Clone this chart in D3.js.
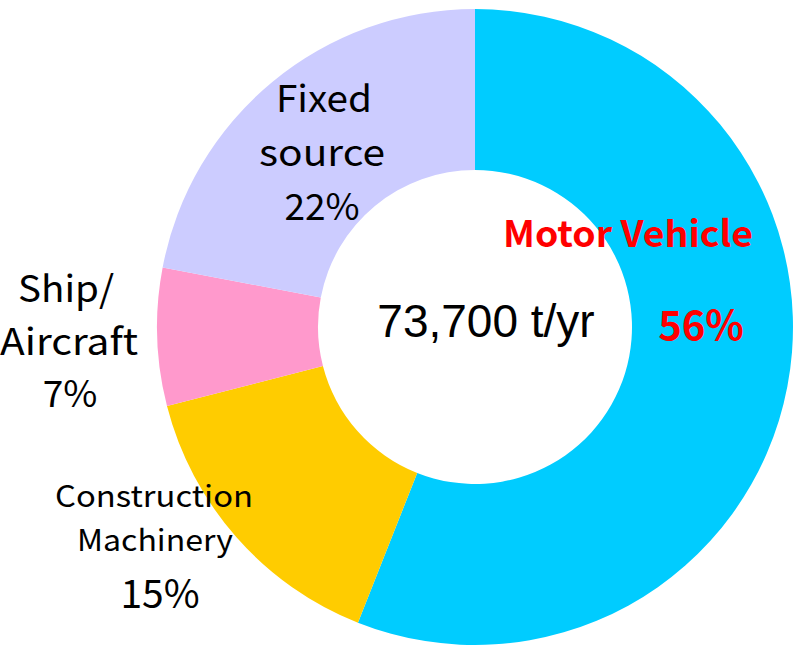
<!DOCTYPE html>
<html><head><meta charset="utf-8">
<script src="https://cdn.jsdelivr.net/npm/d3@7"></script>
<style>html,body{margin:0;padding:0;background:#fff;}</style>
</head><body>
<svg id="c" width="793" height="653"></svg>
<script>
const categories = ["Motor Vehicle", "Construction Machinery", "Ship/Aircraft", "Fixed source"];
const values = [56, 15, 7, 22];
const colors = ["#00CCFF", "#FFCC00", "#FF99CC", "#CCCCFF"];
const totalLabel = "73,700 t/yr";

const svg = d3.select("#c");
const cx = 475, cy = 327, R = 318, r = 157;
const g = svg.append("g").attr("transform", `translate(${cx},${cy})`);
const pie = d3.pie().sort(null).value(d => d)(values);
const arc = d3.arc().innerRadius(r).outerRadius(R);
g.selectAll("path").data(pie).enter().append("path")
  .attr("d", arc).attr("fill", (d, i) => colors[i]);

const jp = "'Noto Sans CJK JP','Noto Sans',sans-serif";
// lines: [text, x, baseline, fontSize, width or null]
function label(lines, opts) {
  lines.forEach(([txt, x, y, size, w]) => {
    const t = svg.append("text").attr("text-anchor", "middle")
      .attr("font-family", jp).attr("fill", opts.fill || "#000")
      .attr("font-weight", opts.weight || "normal")
      .attr("x", x).attr("y", y).attr("font-size", size)
      .text(txt);
    if (w) t.attr("textLength", w).attr("lengthAdjust", "spacingAndGlyphs");
  });
}
label([["Fixed", 324, 112, 37, 96], ["source", 322, 166, 37, 126], [values[3] + "%", 322, 220, 37, null]], {});
label([["Ship/", 66, 302, 37, 96], ["Aircraft", 69, 355, 37, 138], [values[2] + "%", 70, 407, 37, null]], {});
label([["Construction", 154, 507, 30, 198], ["Machinery", 155, 551, 30, 156], [values[1] + "%", 160, 608, 39, null]], {});
label([["Motor Vehicle", 628, 247, 36, 250], [values[0] + "%", 701, 340, 40, null]], {weight: "bold", fill: "#FF0000"});

svg.append("text").attr("x", 486).attr("y", 337).attr("text-anchor", "middle")
  .attr("font-family", "'Liberation Sans',Arial,sans-serif").attr("font-size", 46)
  .text(totalLabel);
</script>
</body></html>
